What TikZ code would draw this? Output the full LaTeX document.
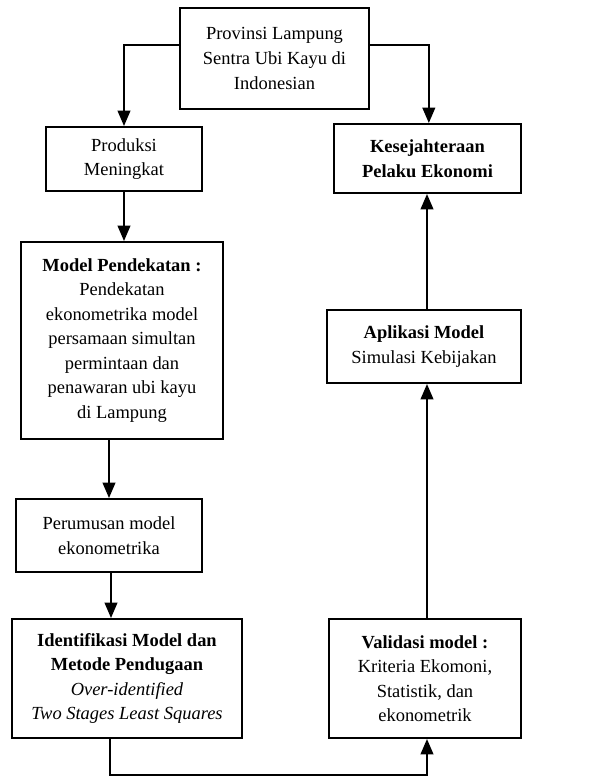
\documentclass[tikz,border=0pt]{standalone}
\usepackage{fontspec}
\setmainfont{Liberation Serif}
\usetikzlibrary{arrows.meta}
\begin{document}
\begin{tikzpicture}[x=0.75pt,y=-0.75pt,
  box/.style={draw,line width=1.5pt,inner sep=0pt,align=center,
    font=\fontsize{13.85pt}{18.4pt}\selectfont},
  arr/.style={line width=1.4pt,-{Triangle[width=9.5pt,length=11.5pt]}},
  ln/.style={line width=1.4pt}]
\useasboundingbox (0,0) rectangle (599,776);
\node[box,minimum width=141.75pt,minimum height=75.75pt] (top) at (274.5,58.5)
  {Provinsi Lampung\\Sentra Ubi Kayu di\\Indonesian};
\node[box,minimum width=117pt,minimum height=48pt] (prod) at (124,159)
  {\raisebox{-2.5pt}{\parbox{110pt}{\centering Produksi\\Meningkat}}};
\node[box,minimum width=140.25pt,minimum height=51.75pt] (kes) at (427.5,158.5)
  {\textbf{Kesejahteraan}\\\textbf{Pelaku Ekonomi}};
\node[box,minimum width=151.5pt,minimum height=147.75pt] (model) at (122,340.5)
  {\textbf{Model Pendekatan :}\\Pendekatan\\ekonometrika model\\persamaan simultan\\permintaan dan\\penawaran ubi kayu\\di Lampung};
\node[box,minimum width=139.5pt,minimum height=54.75pt] (perum) at (109,535.5)
  {Perumusan model\\ekonometrika};
\node[box,minimum width=145.5pt,minimum height=54.75pt] (apl) at (424,346.5)
  {\textbf{Aplikasi Model}\\Simulasi Kebijakan};
\node[box,minimum width=172.5pt,minimum height=89.25pt] (ident) at (127,678.5)
  {\textbf{Identifikasi Model dan}\\\textbf{Metode Pendugaan}\\\textit{Over-identified}\\\textit{Two Stages Least Squares}};
\node[box,minimum width=144pt,minimum height=89.25pt] (valid) at (425,678.5)
  {\textbf{Validasi model :}\\Kriteria Ekomoni,\\Statistik, dan\\ekonometrik};
\coordinate (bl) at (110,775);
\coordinate (br) at (427,775);
\draw[arr] ([yshift=10.125pt]top.west) -| (prod.north);
\draw[arr] ([yshift=10.125pt]top.east) -| ([xshift=1pt]kes.north);
\draw[arr] (prod.south) -- (prod.south |- model.north);
\draw[arr] (perum.north |- model.south) -- (perum.north);
\draw[arr] ([xshift=1.5pt]perum.south) -- ([xshift=1.5pt]perum.south |- ident.north);
\draw[arr] (ident.south -| bl) -- (bl) -- (br) -- (br |- valid.south);
\draw[arr] (valid.north -| br) -- (br |- apl.south);
\draw[arr] (apl.north -| br) -- (br |- kes.south);
\end{tikzpicture}
\end{document}
